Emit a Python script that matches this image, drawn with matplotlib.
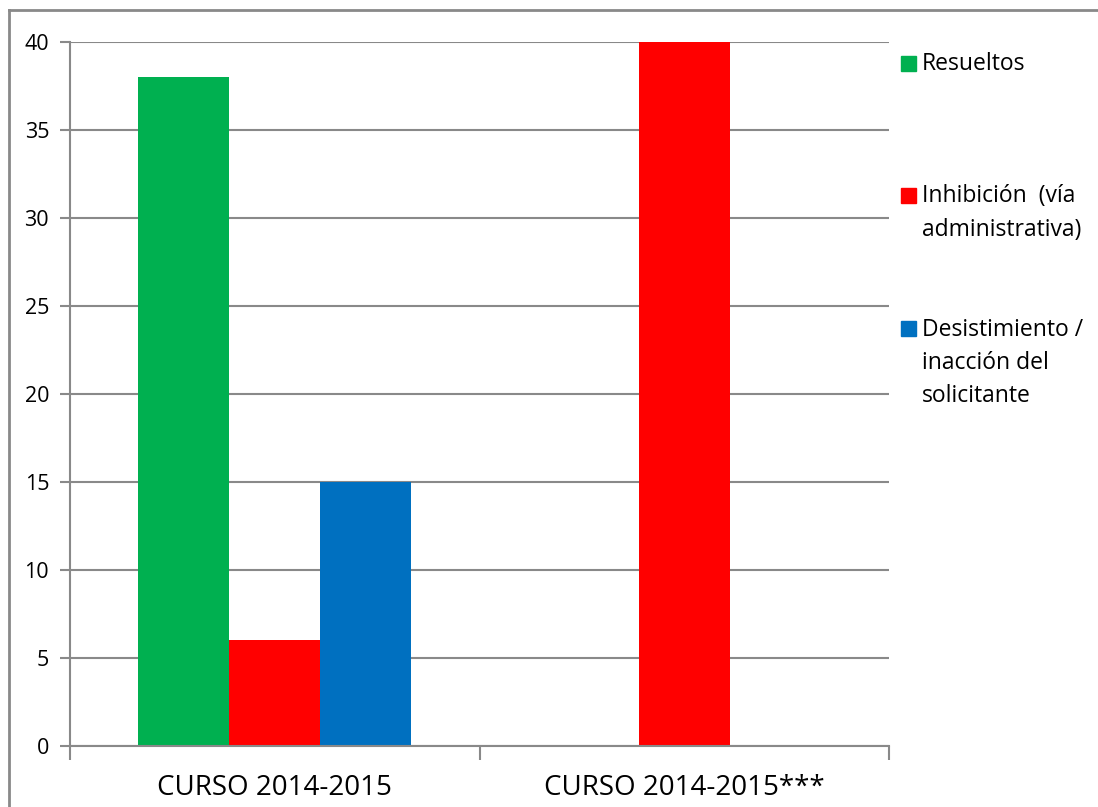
import matplotlib
matplotlib.use("Agg")
from matplotlib import pyplot as plt
from matplotlib.patches import Rectangle
from matplotlib.lines import Line2D

categories = ["CURSO 2014-2015", "CURSO 2014-2015***"]
series_names = ["Resueltos", "Inhibición  (vía\nadministrativa)", "Desistimiento /\ninacción del\nsolicitante"]
resueltos = [38, 0]
inhibicion = [6, 40]
desistimiento = [15, 0]
colors = ["#00B050", "#FF0000", "#0070C0"]
yticks = [0, 5, 10, 15, 20, 25, 30, 35, 40]

plt.rcParams['font.family'] = ['Open Sans', 'DejaVu Sans']
grey = "#898989"

fig = plt.figure(figsize=(10.98, 8.07), dpi=100)
ax = fig.add_axes([70 / 1098, 1 - 746 / 807, (889 - 70) / 1098, (746 - 42) / 807])

width = 91 / 410
values = [resueltos, inhibicion, desistimiento]
for i, (vals, c) in enumerate(zip(values, colors)):
    xs = [k + (i - 1) * width for k in range(len(categories))]
    ax.bar(xs, vals, width=width, color=c, zorder=3)

ax.set_xlim(-0.5, len(categories) - 0.5)
ax.set_ylim(0, 40)
ax.set_yticks(yticks)
ax.yaxis.grid(True, color=grey, linewidth=1.5, zorder=0)
ax.tick_params(axis='y', length=7, width=1.5, color=grey, labelsize=15.5, pad=8)
ax.set_xticks([-0.5, 0.5, 1.5])
ax.set_xticklabels([])
ax.set_xticks(range(len(categories)), minor=True)
ax.set_xticklabels(categories, minor=True, fontsize=20)
ax.tick_params(axis='x', which='major', length=10, width=1.5, color=grey)
ax.tick_params(axis='x', which='minor', length=0, pad=20)
for s in ['top', 'right']:
    ax.spines[s].set_visible(False)
for s in ['left', 'bottom']:
    ax.spines[s].set_color(grey)
    ax.spines[s].set_linewidth(1.5)
ax.spines['bottom'].set_zorder(4)

# legend drawn by hand: marker on the first line, one text per line
legend_baseline = [70.5, 202.5, 336]
line_step = 33
for name, c, y in zip(series_names, colors, legend_baseline):
    fig.add_artist(Rectangle((901 / 1098, 1 - y / 807), 15 / 1098, 15 / 807,
                             transform=fig.transFigure, color=c))
    for j, line in enumerate(name.split("\n")):
        fig.text(922 / 1098, 1 - (y + j * line_step) / 807, line, fontsize=16.5,
                 va='baseline', ha='left')

# outer frame (top and left edges visible)
fig.add_artist(Line2D([9 / 1098, 1], [1 - 10 / 807, 1 - 10 / 807], color=grey, linewidth=2,
                      transform=fig.transFigure))
fig.add_artist(Line2D([9 / 1098, 9 / 1098], [0, 1 - 10 / 807], color=grey, linewidth=2,
                      transform=fig.transFigure))

fig.savefig("out.png", dpi=100)
